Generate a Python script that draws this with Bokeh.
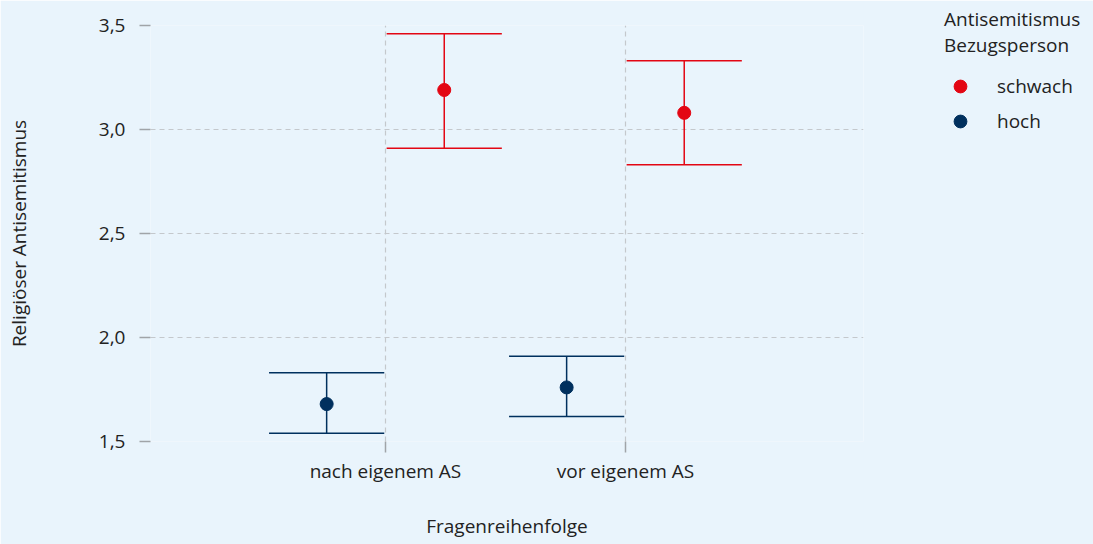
import numpy as np
from bokeh.plotting import figure
from bokeh.models import FixedTicker, Legend, LegendItem, Range1d
from bokeh.embed import file_html
from bokeh.resources import INLINE

# ---- data ----
categories = ["nach eigenem AS", "vor eigenem AS"]
groups = ["schwach", "hoch"]
schwach_mean = [3.19, 3.08]
schwach_lower = [2.91, 2.83]
schwach_upper = [3.46, 3.33]
hoch_mean = [1.68, 1.76]
hoch_lower = [1.54, 1.62]
hoch_upper = [1.83, 1.91]
y_ticks = [1.5, 2.0, 2.5, 3.0, 3.5]
y_tick_labels = ["1,5", "2,0", "2,5", "3,0", "3,5"]

# ---- style ----
FONT = "Open Sans"
FS = "19px"
BG = "#e9f4fc"
RED = "#e30613"
BLUE = "#00305e"
GRID = "#c4c8cc"
TEXT = "#222222"
dodge = {"schwach": 0.245, "hoch": -0.245}
cap_half = 0.24

p = figure(frame_width=713, frame_height=416, output_backend="svg", toolbar_location=None,
           x_range=Range1d(0.021, 2.992), y_range=Range1d(1.5, 3.5),
           min_border_left=150, min_border_right=230, min_border_top=25,
           min_border_bottom=103)
p.background_fill_color = BG
p.border_fill_color = BG
p.outline_line_color = None

xpos = np.arange(1, len(categories) + 1, dtype=float)

renderers = {}
for g, mean, lo, hi, col in [("schwach", schwach_mean, schwach_lower, schwach_upper, RED),
                             ("hoch", hoch_mean, hoch_lower, hoch_upper, BLUE)]:
    x = xpos + dodge[g]
    p.segment(x0=x, x1=x, y0=lo, y1=hi, line_color=col, line_width=1.5)
    p.segment(x0=x - cap_half, x1=x + cap_half, y0=lo, y1=lo, line_color=col, line_width=1.5)
    p.segment(x0=x - cap_half, x1=x + cap_half, y0=hi, y1=hi, line_color=col, line_width=1.5)
    renderers[g] = p.scatter(x=x, y=mean, size=13, fill_color=col, line_color=col)

# axes
p.xaxis.ticker = FixedTicker(ticks=list(xpos))
p.xaxis.major_label_overrides = {float(v): c for v, c in zip(xpos, categories)}
p.xaxis.major_label_overrides.update({int(v): c for v, c in zip(xpos, categories)})
p.yaxis.ticker = FixedTicker(ticks=y_ticks)
p.yaxis.major_label_overrides = {v: l for v, l in zip(y_ticks, y_tick_labels)}

for ax in (p.xaxis[0], p.yaxis[0]):
    ax.axis_line_color = None
    ax.major_tick_line_color = "#a0a4a8"
    ax.major_tick_line_width = 1.5
    ax.major_tick_in = 0
    ax.major_tick_out = 11
    ax.minor_tick_line_color = None
    ax.major_label_text_font = FONT
    ax.major_label_text_font_size = FS
    ax.major_label_text_color = TEXT
    ax.axis_label_text_font = FONT
    ax.axis_label_text_font_size = FS
    ax.axis_label_text_font_style = "normal"
    ax.axis_label_text_color = TEXT

p.xaxis.axis_label = "Fragenreihenfolge"
p.xaxis.major_label_standoff = 5
p.xaxis.axis_label_standoff = 26
p.yaxis.axis_label = "Religiöser Antisemitismus"
p.yaxis.major_label_standoff = 14
p.yaxis.axis_label_standoff = 64

for gr in (p.xgrid[0], p.ygrid[0]):
    gr.grid_line_color = GRID
    gr.grid_line_dash = "5 4"
    gr.grid_line_width = 1.2
p.xgrid.ticker = FixedTicker(ticks=list(xpos))

legend = Legend(items=[LegendItem(label=g, renderers=[renderers[g]]) for g in groups],
                title="Antisemitismus\nBezugsperson",
                location=(81, 304))
legend.title_text_font = FONT
legend.title_text_font_size = FS
legend.title_text_font_style = "normal"
legend.title_text_color = TEXT
legend.title_standoff = 12
legend.label_text_font = FONT
legend.label_text_font_size = FS
legend.label_text_color = TEXT
legend.label_standoff = 21
legend.glyph_width = 32
legend.glyph_height = 32
legend.spacing = 3
legend.padding = 0
legend.margin = 0
legend.border_line_color = None
legend.background_fill_alpha = 0
p.add_layout(legend, "right")

open("out.html", "w").write(file_html(p, INLINE))
